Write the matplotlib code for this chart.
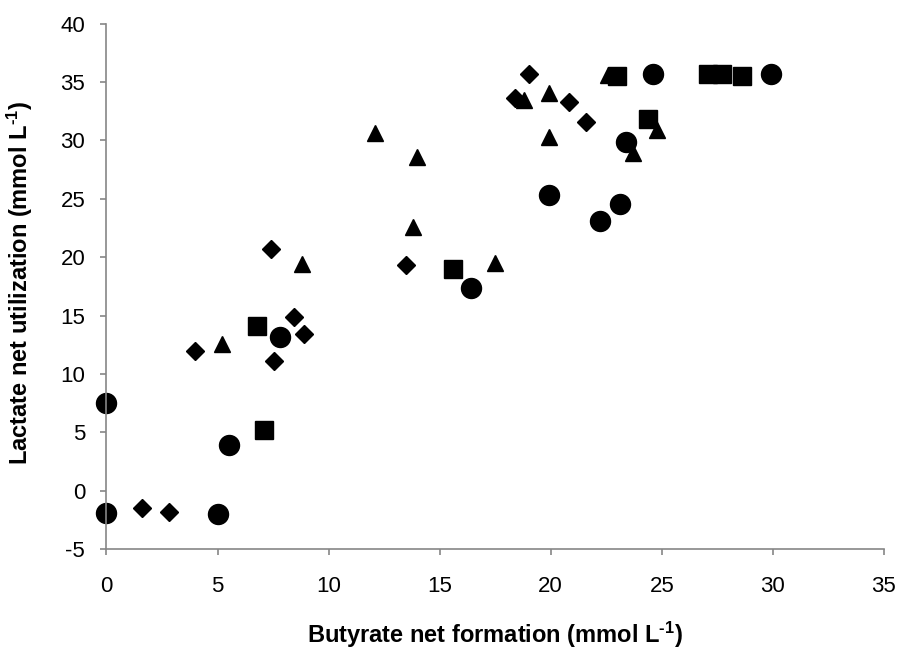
import matplotlib
matplotlib.use("Agg")
import matplotlib.pyplot as plt

plt.rcParams['font.family'] = ['Liberation Sans', 'DejaVu Sans']
plt.rcParams['axes.unicode_minus'] = False
plt.rcParams['mathtext.fontset'] = 'custom'
plt.rcParams['mathtext.rm'] = 'Liberation Sans:bold'
plt.rcParams['mathtext.default'] = 'rm'

# data (butyrate, lactate)
circle_x = [0, 0, 5.0, 5.5, 7.8, 16.4, 19.9, 22.2, 23.1, 23.4, 24.6, 29.9]
circle_y = [7.5, -1.9, -2.0, 3.9, 13.2, 17.4, 25.3, 23.1, 24.6, 29.9, 35.7, 35.7]

square_x = [7.1, 6.8, 15.6, 23.0, 24.4, 27.1, 27.7, 28.6]
square_y = [5.2, 14.1, 19.0, 35.5, 31.8, 35.7, 35.7, 35.5]

triangle_x = [5.2, 8.8, 12.1, 13.8, 14.0, 17.5, 18.8, 19.9, 19.9, 22.6, 23.7, 24.8]
triangle_y = [12.6, 19.4, 30.6, 22.6, 28.6, 19.5, 33.5, 34.1, 30.3, 35.6, 28.9, 30.9]

diamond_x = [1.6, 2.8, 4.0, 7.4, 7.55, 8.45, 8.9, 13.5, 18.4, 19.0, 20.8, 21.6]
diamond_y = [-1.5, -1.8, 12.0, 20.7, 11.1, 14.9, 13.4, 19.3, 33.6, 35.7, 33.3, 31.6]

fig = plt.figure(figsize=(9.02, 6.57), dpi=100)
ax = fig.add_axes([0.118, 0.164, 0.862, 0.8])

ax.plot(diamond_x, diamond_y, 'D', color='black', ms=8.7, clip_on=False, ls='none')
ax.plot(triangle_x, triangle_y, '^', color='black', ms=12, clip_on=False, ls='none')
ax.plot(square_x, square_y, 's', color='black', ms=13, clip_on=False, ls='none')
ax.plot(circle_x, circle_y, 'o', color='black', ms=14.4, clip_on=False, ls='none')

ax.set_xlim(0, 35)
ax.set_ylim(-5, 40)
ax.set_xticks(range(0, 36, 5))
ax.set_yticks(range(-5, 41, 5))

for side in ['top', 'right']:
    ax.spines[side].set_visible(False)
for side in ['left', 'bottom']:
    ax.spines[side].set_color('#868686')
    ax.spines[side].set_linewidth(1.2)
ax.tick_params(direction='out', length=4.3, width=1.2, color='#868686',
               labelsize=16)
ax.tick_params(axis='x', pad=15)
ax.tick_params(axis='y', pad=11)

ax.set_xlabel(r'Butyrate net formation (mmol L$^{\text{-1}}$)', fontsize=17,
              fontweight='bold')
ax.set_ylabel(r'Lactate net utilization (mmol L$^{\text{-1}}$)', fontsize=17,
              fontweight='bold')
ax.xaxis.set_label_coords(0.5, -0.135)
ax.yaxis.set_label_coords(-0.092, 0.507)

fig.savefig('out.png', dpi=100)
